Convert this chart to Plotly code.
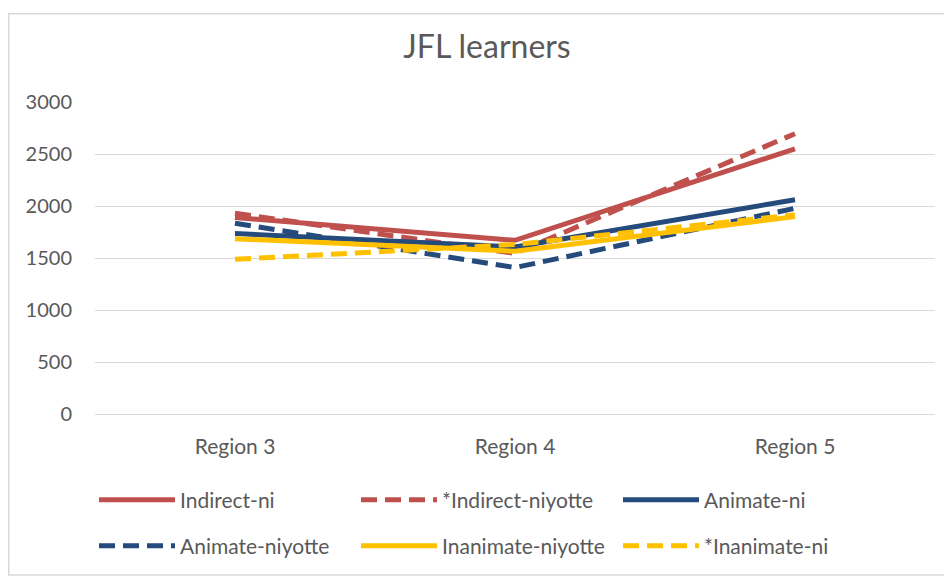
import plotly.graph_objects as go

categories = ["Region 3", "Region 4", "Region 5"]
series_names = ["Indirect-ni", "*Indirect-niyotte", "Animate-ni",
                "Animate-niyotte", "Inanimate-niyotte", "*Inanimate-ni"]
indirect_ni = [1890, 1670, 2550]
indirect_niyotte = [1930, 1545, 2695]
animate_ni = [1735, 1605, 2060]
animate_niyotte = [1835, 1408, 1978]
inanimate_niyotte = [1685, 1565, 1898]
inanimate_ni = [1487, 1630, 1915]
y_ticks = [0, 500, 1000, 1500, 2000, 2500, 3000]

RED = "#C0504D"
BLUE = "#254A7C"
YELLOW = "#FFC000"
TXT = "#595959"
FONT = "Lato, Open Sans, sans-serif"

series = [
    (series_names[0], indirect_ni, RED, "solid", "legend"),
    (series_names[1], indirect_niyotte, RED, "16px,8px", "legend"),
    (series_names[2], animate_ni, BLUE, "solid", "legend"),
    (series_names[3], animate_niyotte, BLUE, "16px,8px", "legend2"),
    (series_names[4], inanimate_niyotte, YELLOW, "solid", "legend2"),
    (series_names[5], inanimate_ni, YELLOW, "16px,8px", "legend2"),
]

fig = go.Figure()
for name, vals, col, dash, lg in series:
    fig.add_trace(go.Scatter(x=categories, y=vals, name=name, mode="lines",
                             legend=lg,
                             line=dict(color=col, width=5, dash=dash)))

# page has an 8px body margin: figure pixel = page pixel - 8
OFF = 8
W, H = 952 - OFF, 577 - OFF
L = 95 - OFF
T = 102 - OFF
PR = 935 - OFF
PB = 415 - OFF
R, B = W - PR, H - PB
pw, ph = PR - L, PB - T

def px_x(x):
    return (x - OFF - L) / pw

def px_y(y):
    return (PB - (y - OFF)) / ph

legend_common = dict(orientation="h", xanchor="left", yanchor="middle",
                     entrywidth=171, entrywidthmode="pixels", itemwidth=76,
                     font=dict(size=21, color=TXT, family=FONT),
                     bgcolor="rgba(0,0,0,0)")

fig.update_layout(
    width=W, height=H,
    margin=dict(l=L, r=R, t=T, b=B),
    paper_bgcolor="white", plot_bgcolor="white",
    font=dict(family=FONT, color=TXT, size=20),
    title=dict(text="JFL learners", x=px_x(487), xanchor="center",
               xref="paper", y=1 - (47 - OFF) / H,
               yanchor="middle", font=dict(size=32, color=TXT, family=FONT)),
    xaxis=dict(type="category", range=[-0.5, 2.5], showgrid=False,
               showline=True, linecolor="#D9D9D9", linewidth=1,
               ticks="", ticklabelstandoff=14, tickfont=dict(size=21, color=TXT)),
    yaxis=dict(range=[0, 3000], tickvals=y_ticks, showgrid=True,
               gridcolor="#D9D9D9", gridwidth=1, zeroline=False,
               showline=False, ticks="", ticklabelstandoff=22,
               tickfont=dict(size=20, color=TXT)),
    showlegend=True,
    legend=dict(x=px_x(94), y=px_y(500), **legend_common),
    legend2=dict(x=px_x(94), y=px_y(546), **legend_common),
    shapes=[dict(type="rect", xref="paper", yref="paper",
                 x0=px_x(OFF + 0.75), x1=px_x(951), y0=px_y(576.5), y1=px_y(13.5),
                 line=dict(color="#D9D9D9", width=1.5), layer="below")],
)

fig.write_html("out.html")
